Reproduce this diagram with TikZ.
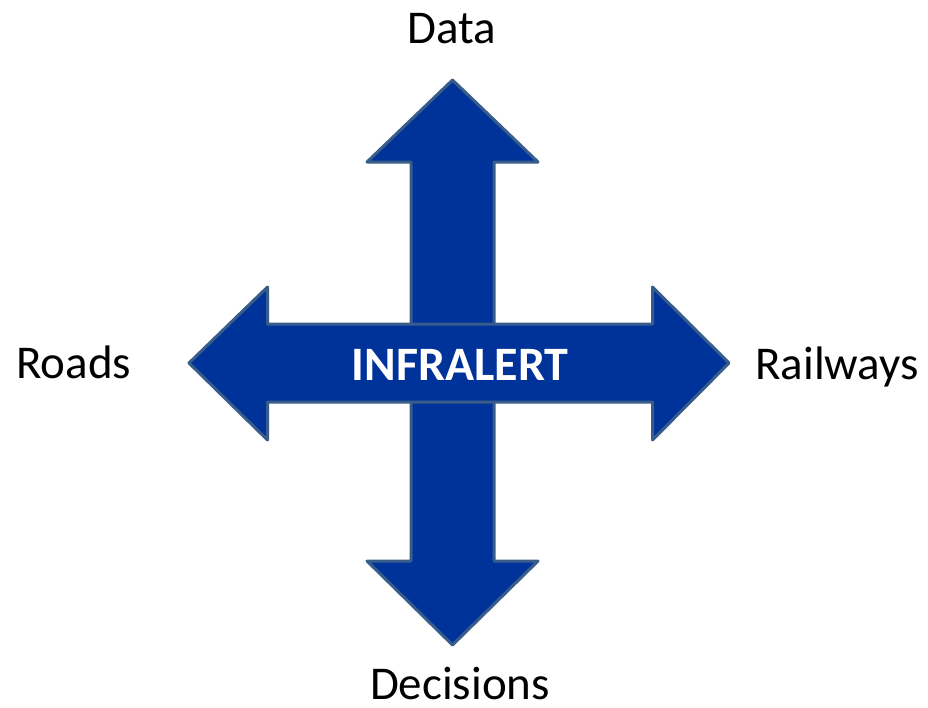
\documentclass[tikz,border=0pt]{standalone}
\usepackage{fontspec}
\setmainfont{Carlito}
\definecolor{arrowfill}{HTML}{003399}
\definecolor{arrowline}{HTML}{385D8A}

\begin{document}
\begin{tikzpicture}[x=1pt, y=-1pt]
\tikzset{
  bigarrow/.style={fill=arrowfill, draw=arrowline, line width=3pt, line join=round},
  lbl/.style={inner sep=0pt, anchor=base, font=\fontsize{47}{50}\selectfont},
}
\useasboundingbox (0,0) rectangle (928,707);

\begin{scope}
  % vertical arrow
  \draw[bigarrow] (452.5,80) -- (538,162) -- (494,162) -- (494,561) -- (538,561)
    -- (452.5,645) -- (367,561) -- (411,561) -- (411,162) -- (367,162) -- cycle;
  % horizontal arrow
  \draw[bigarrow] (189,363) -- (267.5,287) -- (267.5,324) -- (652.5,324) -- (652.5,287)
    -- (729,363) -- (652.5,440) -- (652.5,402) -- (267.5,402) -- (267.5,440) -- cycle;
\end{scope}

\node[lbl, text=white, font=\fontsize{48}{50}\selectfont\bfseries] (infralert) at (460,380) {INFRALERT};

\node[lbl] (data) at (452,43) {Data};
\node[lbl] (decisions) at (460,699) {Decisions};
\node[lbl, anchor=base west] (roads) at (16,378) {Roads};
\node[lbl, anchor=base west] (railways) at (755,379) {Railways};

\end{tikzpicture}
\end{document}
